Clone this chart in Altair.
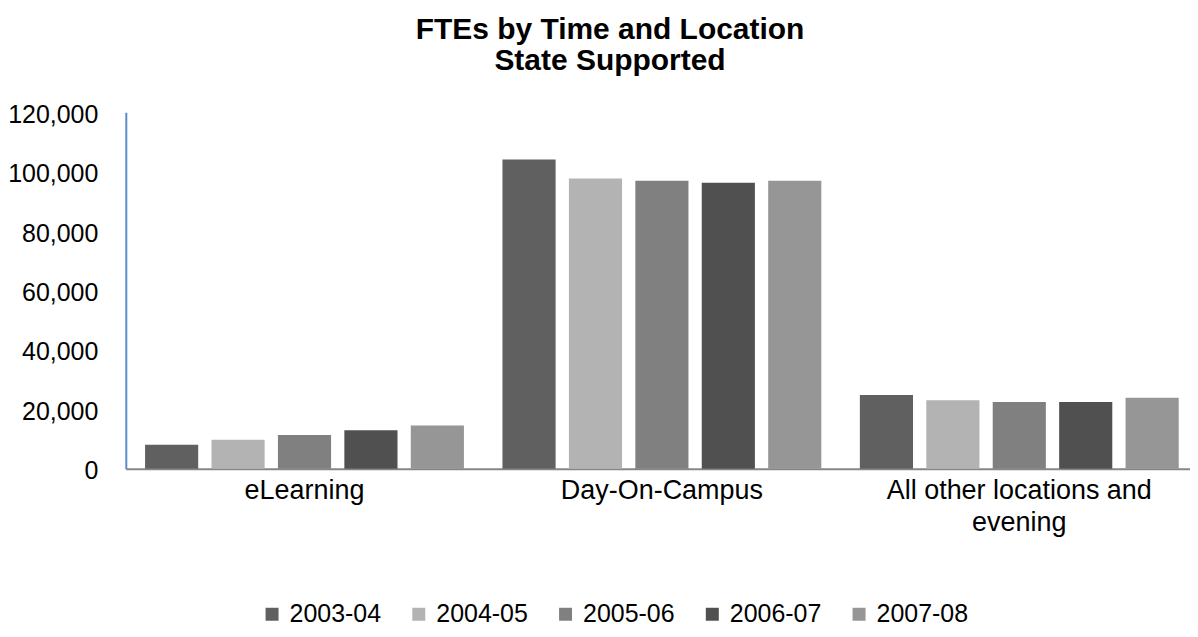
import altair as alt
import pandas as pd

categories = ["eLearning", "Day-On-Campus", "All other locations and evening"]
years = ["2003-04", "2004-05", "2005-06", "2006-07", "2007-08"]
elearning = [8100, 9800, 11400, 13000, 14600]
day_on_campus = [104100, 97700, 97000, 96300, 97000]
all_other = [24800, 23100, 22500, 22500, 23900]
y_ticks = [0, 20000, 40000, 60000, 80000, 100000, 120000]
colors = ["#606060", "#b3b3b3", "#808080", "#505050", "#969696"]

rows = []
for cat, vals in zip(categories, [elearning, day_on_campus, all_other]):
    for yr, v in zip(years, vals):
        rows.append({"category": cat, "year": yr, "value": v})
df = pd.DataFrame(rows)

FONT = "Liberation Sans"

chart = alt.Chart(df).mark_bar().encode(
    x=alt.X(
        "category:N",
        sort=categories,
        scale=alt.Scale(range=[0, 1074], paddingInner=0, paddingOuter=0),
        axis=alt.Axis(
            title=None, labelAngle=0, ticks=False, domainColor="#868686", domainWidth=2,
            labelFontSize=27, labelFont=FONT, labelColor="#000000", labelPadding=9,
            labelLineHeight=32, labelBaseline="top", labelLimit=500,
            labelExpr="datum.value == 'All other locations and evening' ? ['All other locations and', 'evening'] : datum.label",
        ),
    ),
    xOffset=alt.XOffset("year:N", sort=years, scale=alt.Scale(paddingInner=0.2, paddingOuter=0.29)),
    y=alt.Y(
        "value:Q",
        scale=alt.Scale(domain=[0, 120000], nice=False),
        axis=alt.Axis(
            title=None, values=y_ticks, format=",.0f", grid=False, ticks=False,
            domainColor="#5b8cc8", domainWidth=2, labelPadding=28, labelOffset=2,
            labelFontSize=25, labelFont=FONT, labelColor="#000000", labelLimit=300,
        ),
    ),
    color=alt.Color(
        "year:N", sort=years,
        scale=alt.Scale(domain=years, range=colors),
        legend=alt.Legend(
            title=None, orient="none", direction="horizontal", legendX=134, legendY=490,
            symbolType="square", symbolSize=169, symbolStrokeWidth=0, labelFontSize=25,
            labelFont=FONT, labelColor="#000000", labelOffset=5, columnPadding=25,
            labelLimit=300,
        ),
    ),
).properties(
    width=1066,
    height=357,
    autosize=alt.AutoSizeParams(type="none"),
    padding={"left": 118, "top": 104, "right": 0, "bottom": 166},
    title=alt.TitleParams(
        text=["FTEs by Time and Location", "State Supported"],
        fontSize=30, font=FONT, fontWeight="bold", color="#000000",
        anchor="middle", frame="group", dx=-48, offset=26, lineHeight=31,
    ),
).configure_view(stroke=None)

chart.save("out.html", embed_options={"renderer": "svg", "actions": False})
